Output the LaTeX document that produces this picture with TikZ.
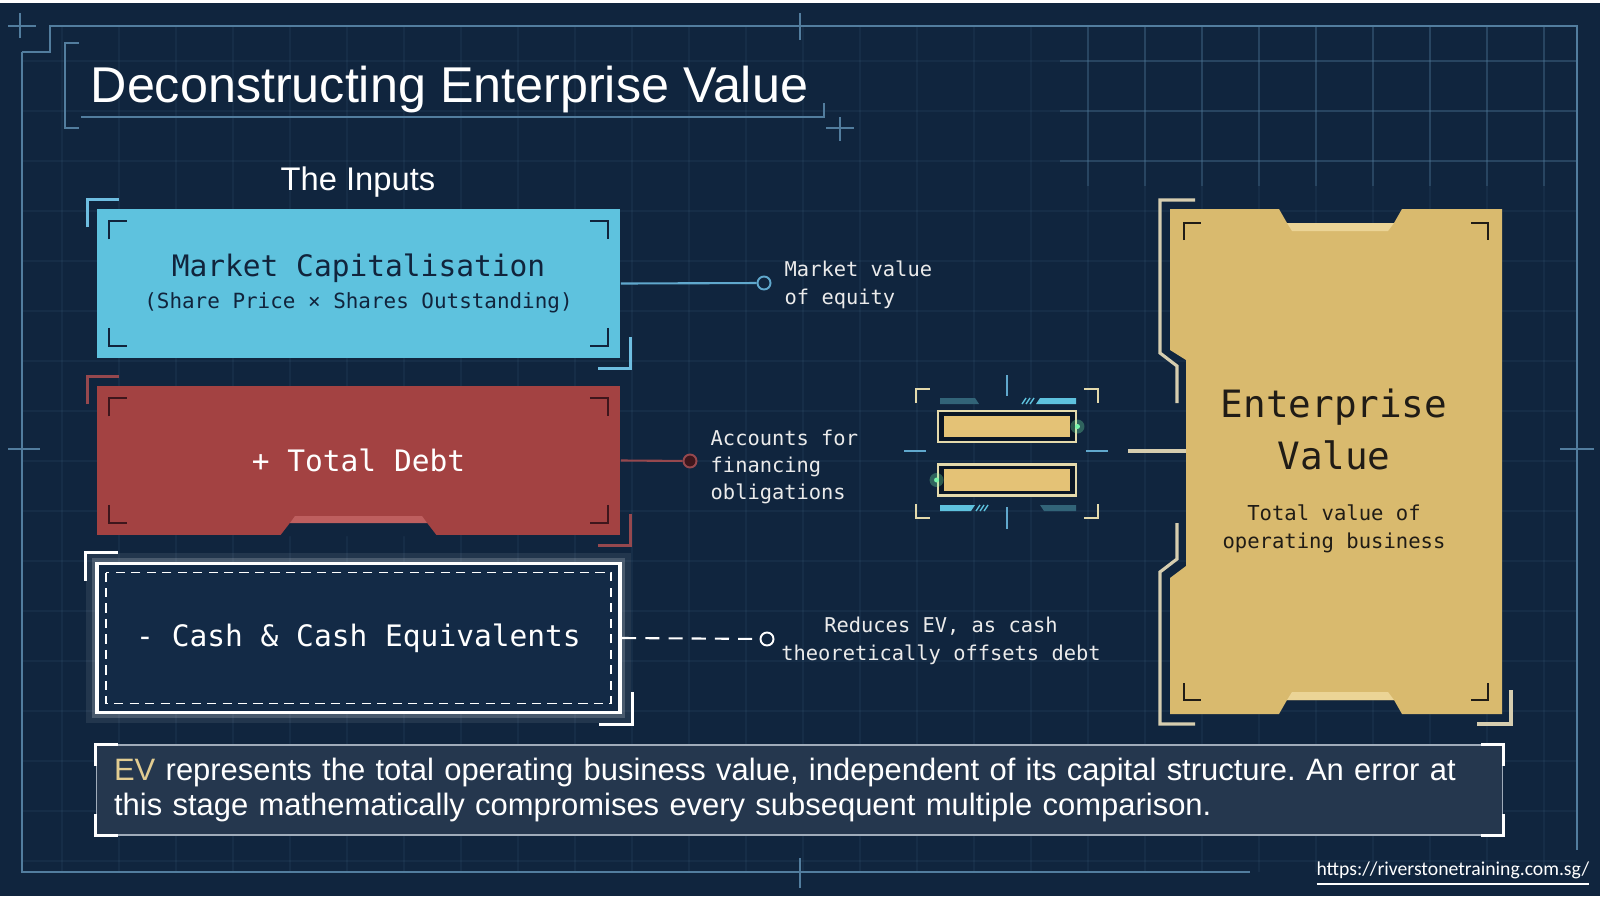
\documentclass[tikz,border=0pt]{standalone}
\usepackage{fontspec}
\setmainfont{Liberation Sans}
\setmonofont{DejaVu Sans Mono}
\newfontfamily\urlfont{Carlito}
\usetikzlibrary{positioning,calc}
\frenchspacing

\definecolor{bgNavy}{RGB}{16,37,62}
\definecolor{frameBlue}{RGB}{82,125,158}
\definecolor{capCyan}{RGB}{94,194,222}
\definecolor{capEdge}{RGB}{110,190,225}
\definecolor{inkNavy}{RGB}{17,36,60}
\definecolor{debtRed}{RGB}{163,66,66}
\definecolor{debtEdge}{RGB}{150,72,78}
\definecolor{debtInk}{RGB}{62,22,28}
\definecolor{debtBand}{RGB}{190,95,95}
\definecolor{cashFill}{RGB}{19,42,70}
\definecolor{evGold}{RGB}{217,186,110}
\definecolor{evBand}{RGB}{235,212,150}
\definecolor{evInk}{RGB}{32,28,22}
\definecolor{evFrame}{RGB}{214,205,175}
\definecolor{noteFill}{RGB}{37,55,78}
\definecolor{noteEdge}{RGB}{160,172,186}
\definecolor{evCream}{RGB}{226,204,145}
\definecolor{tipBlue}{RGB}{96,168,205}
\definecolor{tealDark}{RGB}{50,100,120}
\definecolor{barCream}{RGB}{228,218,172}
\definecolor{barGold}{RGB}{228,194,118}
\definecolor{glowGreen}{RGB}{120,245,170}

\begin{document}
\begin{tikzpicture}[x=0.01cm, y=-0.01cm,
    inputbox/.style={rectangle, minimum width=5.23cm, minimum height=1.49cm, inner sep=0pt,
      font=\ttfamily\fontsize{8.4}{8.9}\selectfont, align=center},
    sidenote/.style={font=\ttfamily\fontsize{5.8}{7.8}\selectfont, text=white!92!black, inner sep=0pt},
    tipdot/.style={circle, line width=0.55pt, minimum size=0.13cm, inner sep=0pt},
    frameline/.style={frameBlue, line width=0.45pt},
    gridline/.style={frameBlue, opacity=0.1, line width=0.3pt},
    gridbright/.style={frameBlue, opacity=0.3, line width=0.35pt},
    boxcorner/.style={line width=0.6pt},
    outercorner/.style={line width=0.9pt},
    iconmark/.style={line width=0.7pt},
    evframe/.style={evFrame, line width=0.9pt},
    eqbar/.style={rectangle, draw=barCream, line width=0.8pt, fill=bgNavy!60!black,
      minimum width=1.38cm, minimum height=0.31cm, inner sep=0pt}
  ]
  \useasboundingbox (0,0) rectangle (1600,900);
  \fill[white] (0,0) rectangle (1600,900);
  \fill[bgNavy] (0,3) rectangle (1600,896);

  % grid
  \foreach \gx in {62,119,...,1544} \draw[gridline] (\gx,26) -- (\gx,872);
  \foreach \gy in {61,111,...,861} \draw[gridline] (22,\gy) -- (1577,\gy);
  \foreach \gx in {1088,1145,...,1544} \draw[gridbright] (\gx,26) -- (\gx,186);
  \foreach \gy in {61,111,161} \draw[gridbright] (1060,\gy) -- (1577,\gy);

  % frame
  \draw[frameline] (22,52) -- (50,52) -- (50,26) -- (1577,26) -- (1577,850);
  \draw[frameline] (22,52) -- (22,872) -- (1250,872);
  \draw[frameline] (20,13) -- (20,38) (8,26) -- (36,26);
  \draw[frameline] (800,13) -- (800,40) (800,858) -- (800,888);
  \draw[frameline] (8,449) -- (40,449) (1560,449) -- (1594,449);

  % title
  \draw[frameline] (79,43) -- (65,43) -- (65,128) -- (79,128);
  \draw[frameline] (81,117) -- (824,117) -- (824,103);
  \draw[frameline] (840,117) -- (840,141) (826,128) -- (854,128);
  \node[anchor=base west, inner sep=0pt, text=white, font=\fontsize{14.3}{16}\selectfont]
    (title) at (90,102) {Deconstructing Enterprise Value};
  \node[anchor=base, inner sep=0pt, text=white, font=\fontsize{9.3}{11}\selectfont]
    (inputs) at (358,190) {The Inputs};

  % input boxes
  \node[inputbox, fill=capCyan, text=inkNavy] (mcap) at (358.5,283.5)
    {Market Capitalisation\\{\fontsize{5.95}{7}\selectfont (Share Price × Shares Outstanding)}};
  \node[inputbox, fill=debtRed, text=white] (debt) at (358.5,460.5) {+ Total Debt};
  \fill[bgNavy] (280,536) -- (290,523) -- (427,523) -- (437,536) -- cycle;
  \fill[debtBand] (290,523) -- (295,516) -- (422,516) -- (427,523) -- cycle;
  \node[inputbox, fill=cashFill, text=white, draw=white, line width=1.1pt,
    preaction={draw=white, opacity=.08, line width=6pt},
    preaction={draw=white, opacity=.18, line width=3pt}] (cash) at (358.5,638)
    {- Cash \& Cash Equivalents};
  \draw[white, line width=0.55pt, dash pattern=on 2.6pt off 1.8pt]
    ([shift={(11,11)}]cash.north west) rectangle ([shift={(-11,-11)}]cash.south east);

  \foreach \n/\c in {mcap/inkNavy, debt/debtInk}{
    \draw[boxcorner, \c] ([shift={(13,31)}]\n.north west) -- ++(0,-18) -- ++(18,0);
    \draw[boxcorner, \c] ([shift={(-31,13)}]\n.north east) -- ++(18,0) -- ++(0,18);
    \draw[boxcorner, \c] ([shift={(13,-31)}]\n.south west) -- ++(0,18) -- ++(18,0);
    \draw[boxcorner, \c] ([shift={(-13,-31)}]\n.south east) -- ++(0,18) -- ++(-18,0);
  }
  \foreach \n/\c in {mcap/capEdge, debt/debtEdge, cash/white}{
    \draw[outercorner, \c] ([shift={(-9,19)}]\n.north west) -- ++(0,-28) -- ++(32,0);
    \draw[outercorner, \c] ([shift={(10,-22)}]\n.south east) -- ++(0,32) -- ++(-33,0);
  }

  % side notes
  \node[tipdot, draw=tipBlue, fill=bgNavy] (mcapdot) at (764,283) {};
  \draw[tipBlue, line width=0.6pt] (mcap.east) -- (mcapdot);
  \node[sidenote, anchor=west, align=left] (mcapnote) at (784,285) {Market value\\of equity};
  \node[tipdot, draw=debtEdge, fill=debtInk] (debtdot) at (690,461) {};
  \draw[debtEdge, line width=0.6pt] (debt.east) -- (debtdot);
  \node[sidenote, anchor=west, align=left] (debtnote) at (710,467) {Accounts for\\financing\\obligations};
  \node[tipdot, draw=white, fill=bgNavy] (cashdot) at (767,639) {};
  \draw[white, line width=0.6pt, dash pattern=on 4pt off 2.6pt] (cash.east) -- (cashdot);
  \node[sidenote, align=center] (cashnote) at (941,641) {Reduces EV, as cash\\theoretically offsets debt};

  % equals icon
  \node[eqbar] (eqtop) at (1007,426.5) {};
  \node[eqbar] (eqbot) at (1007,480) {};
  \foreach \b in {eqtop,eqbot}
    \fill[barGold] ([shift={(7,6)}]\b.north west) rectangle ([shift={(-7,-6)}]\b.south east);
  \fill[glowGreen, opacity=.3] (eqtop.east) circle[radius=0.07cm];
  \fill[glowGreen] (eqtop.east) circle[radius=0.025cm];
  \fill[glowGreen, opacity=.3] (eqbot.west) circle[radius=0.07cm];
  \fill[glowGreen] (eqbot.west) circle[radius=0.025cm];
  \draw[iconmark, barCream] (916,403) -- (916,389) -- (930,389);
  \draw[iconmark, barCream] (1084,389) -- (1098,389) -- (1098,403);
  \draw[iconmark, barCream] (916,504) -- (916,518) -- (930,518);
  \draw[iconmark, barCream] (1084,518) -- (1098,518) -- (1098,504);
  \draw[iconmark, tipBlue] (1007,375) -- (1007,396) (1007,507) -- (1007,529)
    (904,451) -- (926,451) (1086,451) -- (1108,451);
  \fill[tealDark] (940,398) -- (975,398) -- (979,404) -- (940,404) -- cycle;
  \fill[capCyan] (1040,398) -- (1076,398) -- (1076,404) -- (1036,404) -- cycle;
  \foreach \k in {0,4,8} \draw[capCyan, line width=0.4pt] (1022+\k,404) -- (1026+\k,398);
  \fill[capCyan] (940,505) -- (975,505) -- (971,511) -- (940,511) -- cycle;
  \foreach \k in {0,4,8} \draw[capCyan, line width=0.4pt] (976+\k,511) -- (980+\k,505);
  \fill[tealDark] (1040,505) -- (1076,505) -- (1076,511) -- (1044,511) -- cycle;

  % enterprise value
  \fill[evGold] (1170,209) -- (1279,209) -- (1287,223) -- (1394,223) -- (1402,209) -- (1502,209)
    -- (1502,714) -- (1402,714) -- (1394,700) -- (1287,700) -- (1279,714) -- (1170,714)
    -- (1170,578) -- (1186,566) -- (1186,360) -- (1170,350) -- cycle;
  \fill[evBand] (1287,223) -- (1292,231) -- (1388,231) -- (1394,223) -- cycle;
  \fill[evBand] (1287,700) -- (1292,692) -- (1388,692) -- (1394,700) -- cycle;
  \draw[evframe] (1195,200) -- (1160,200) -- (1160,353) -- (1177,366) -- (1177,403);
  \draw[evframe] (1177,523) -- (1177,559) -- (1160,572) -- (1160,724) -- (1195,724);
  \draw[evframe] (1511,690) -- (1511,724) -- (1477,724);
  \draw[boxcorner, evInk] (1184,240) -- (1184,223) -- (1201,223);
  \draw[boxcorner, evInk] (1471,223) -- (1488,223) -- (1488,240);
  \draw[boxcorner, evInk] (1184,683) -- (1184,700) -- (1201,700);
  \draw[boxcorner, evInk] (1471,700) -- (1488,700) -- (1488,683);
  \node[text=evInk, font=\ttfamily\fontsize{10.7}{14.8}\selectfont, align=center]
    (ev) at (1334,429) {Enterprise\\Value};
  \node[text=evInk, font=\ttfamily\fontsize{5.85}{7.9}\selectfont, align=center]
    (evsub) at (1334,529) {Total value of\\operating business};
  \coordinate (eqlink) at (1128,451);
  \coordinate (evport) at (1186,451);
  \draw[evframe] (eqlink) -- (evport);

  % bottom note
  \node[rectangle, fill=noteFill, draw=noteEdge, line width=0.5pt, minimum width=14.05cm,
    minimum height=0.9cm, text width=13.7cm, inner xsep=0.16cm, align=left, text=white,
    font=\fontsize{8.8}{10}\selectfont] (note) at (799.5,790)
    {\textcolor{evCream}{EV} represents the total operating business value, independent of its capital structure. An error at\\
     this stage mathematically compromises every subsequent multiple comparison.};
  \draw[white, line width=0.9pt] ([shift={(0,22)}]note.north west) -- (note.north west) -- ++(22,0);
  \draw[white, line width=0.9pt] ([shift={(-22,0)}]note.north east) -- (note.north east) -- ++(0,22);
  \draw[white, line width=0.9pt] ([shift={(0,-22)}]note.south west) -- (note.south west) -- ++(22,0);
  \draw[white, line width=0.9pt] ([shift={(-22,0)}]note.south east) -- (note.south east) -- ++(0,-22);

  \node[anchor=east, inner sep=0pt, text=white, font=\urlfont\fontsize{5.6}{7}\selectfont]
    (url) at (1590,874) {\underline{https://riverstonetraining.com.sg/}};
\end{tikzpicture}
\end{document}
